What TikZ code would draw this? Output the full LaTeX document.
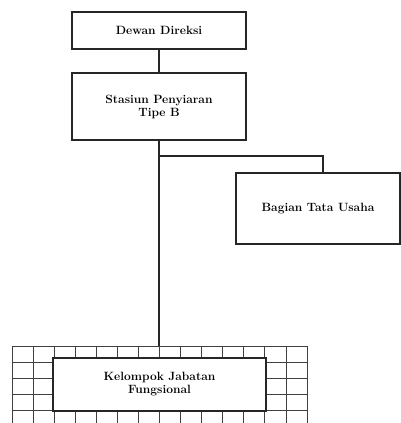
\documentclass[tikz,border=0pt]{standalone}
\begin{document}
\begin{tikzpicture}[x=1pt,y=-1pt,
  box/.style={draw=black!85,line width=1.4pt,fill=white,align=center,inner sep=0pt,
    font=\fontsize{12}{13}\selectfont\bfseries},
  conn/.style={draw=black!85,line width=1.2pt},
  gridline/.style={draw=black!75,line width=0.8pt}]
\useasboundingbox (0,0) rectangle (401,423);
% grid background
\foreach \i in {0,...,14} {
  \draw[gridline] ({12+\i*21.07},346) -- ({12+\i*21.07},423);
}
\foreach \j in {0,...,4} {
  \draw[gridline] (12,{346+\j*16}) -- (307,{346+\j*16});
}
\node[box,minimum width=174pt,minimum height=37pt] (dewan) at (159,30.5) {Dewan Direksi};
\node[box,minimum width=174pt,minimum height=67pt] (stasiun) at (159,106.5) {Stasiun Penyiaran\\Tipe B};
\node[box,minimum width=164pt,minimum height=71pt] (bagian) at (318,208.5) {Bagian Tata Usaha};
\node[box,minimum width=213pt,minimum height=53pt] (kelompok) at (159.5,384.5) {Kelompok Jabatan\\Fungsional};
\coordinate (br) at (159,156);
\coordinate (bt) at (323,173);
\draw[conn] (dewan.south) -- (stasiun.north);
\draw[conn] (stasiun.south) -- (159,346);
\draw[conn] (br) -| (bt);
\end{tikzpicture}
\end{document}
